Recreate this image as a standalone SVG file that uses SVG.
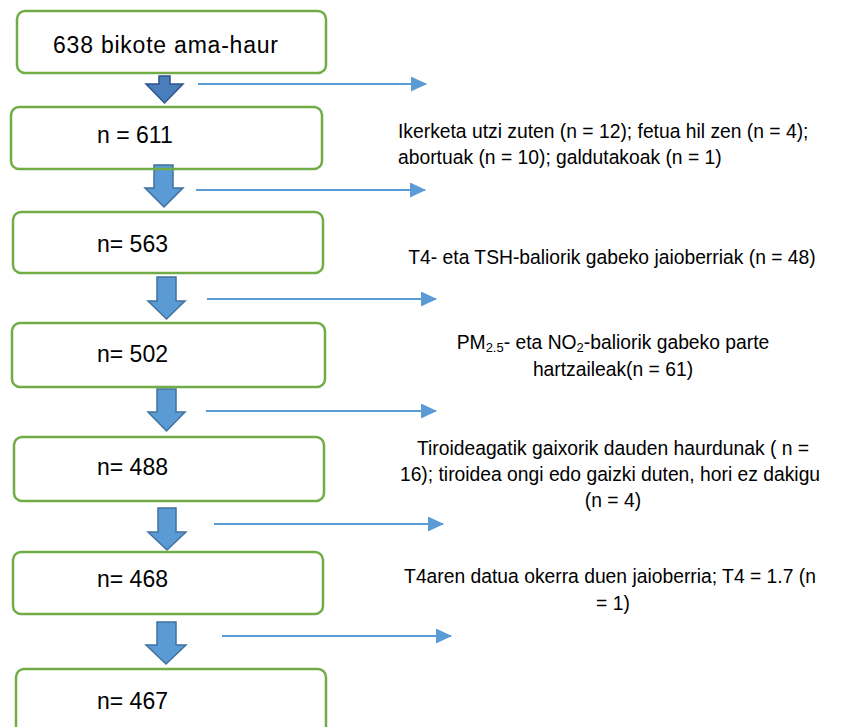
<svg xmlns="http://www.w3.org/2000/svg" width="842" height="727" viewBox="0 0 842 727">
<style>
.box{fill:none;stroke:#70AD47;stroke-width:2.5}
.blk{fill:#5B9BD5;stroke:#41719C;stroke-width:1.5;stroke-linejoin:miter}
.blk1{fill:#4A7EBB;stroke:#2F528F;stroke-width:1.5}
.hline{stroke:#5B9BD5;stroke-width:2.2;fill:none;marker-end:url(#ah)}
.lbl{font-family:"Liberation Sans",Arial,sans-serif;font-size:23px;fill:#000}
.note{font-family:"Liberation Sans",Arial,sans-serif;font-size:19.3px;fill:#000}
.c{text-anchor:middle}
</style>
<defs>
<marker id="ah" markerWidth="16" markerHeight="15" refX="15" refY="7.5" orient="auto" markerUnits="userSpaceOnUse">
<path d="M0,0 L16,7.5 L0,15 Z" fill="#5B9BD5"/>
</marker>
</defs>
<rect width="842" height="727" fill="#fff"/>
<g id="connectors">
<path class="blk1" d="M159,76 H170 V84 H183 L164.5,103 L146,84 H159 Z"/>
<path class="blk" d="M154,165 H173 V188 H183 L164,207 L145,188 H154 Z"/>
<path class="blk" d="M157,277 H176 V301 H185 L166.5,319 L148,301 H157 Z"/>
<path class="blk" d="M157,389 H176 V412 H185 L166.5,431 L148,412 H157 Z"/>
<path class="blk" d="M158,508 H176 V532 H186 L167,550 L148,532 H158 Z"/>
<path class="blk" d="M157,622 H176 V645 H186 L166,664 L146,645 H157 Z"/>
<line class="hline" x1="198" y1="84" x2="426" y2="84"/>
<line class="hline" x1="196" y1="190" x2="425" y2="190"/>
<line class="hline" x1="207" y1="299" x2="436" y2="299"/>
<line class="hline" x1="206" y1="411" x2="436" y2="411"/>
<line class="hline" x1="214" y1="524" x2="443" y2="524"/>
<line class="hline" x1="222" y1="636" x2="451" y2="636"/>
</g>
<g id="n1"><rect class="box" x="17" y="11" width="309" height="62" rx="8"/><text class="lbl" x="53" y="53" font-size="25" textLength="225" lengthAdjust="spacing">638 bikote ama-haur</text></g>
<g id="n2"><rect class="box" x="11" y="107" width="311" height="62" rx="8"/><text class="lbl" x="97" y="143">n = 611</text></g>
<g id="n3"><rect class="box" x="13" y="212" width="310" height="61" rx="8"/><text class="lbl" x="97" y="252">n= 563</text></g>
<g id="n4"><rect class="box" x="12" y="323" width="313" height="64" rx="8"/><text class="lbl" x="97" y="362">n= 502</text></g>
<g id="n5"><rect class="box" x="14" y="437" width="310" height="64" rx="8"/><text class="lbl" x="97" y="475">n= 488</text></g>
<g id="n6"><rect class="box" x="13" y="552" width="310" height="62" rx="8"/><text class="lbl" x="97" y="587">n= 468</text></g>
<g id="n7"><rect class="box" x="16" y="669" width="310" height="70" rx="8"/><text class="lbl" x="97" y="709">n= 467</text></g>
<g id="e1"><text class="note" x="398" y="138">Ikerketa utzi zuten (n = 12); fetua hil zen (n = 4);</text><text class="note" x="398" y="164">abortuak (n = 10); galdutakoak (n = 1)</text></g>
<g id="e2"><text class="note c" x="612" y="264">T4- eta TSH-baliorik gabeko jaioberriak (n = 48)</text></g>
<g id="e3"><text class="note c" x="613" y="349">PM<tspan font-size="13" dy="3">2.5</tspan><tspan dy="-3">- eta NO</tspan><tspan font-size="13" dy="3">2</tspan><tspan dy="-3">-baliorik gabeko parte</tspan></text><text class="note c" x="613" y="376">hartzaileak(n = 61)</text></g>
<g id="e4"><text class="note c" x="613" y="455">Tiroideagatik gaixorik dauden haurdunak ( n =</text><text class="note c" x="610" y="481">16); tiroidea ongi edo gaizki duten, hori ez dakigu</text><text class="note c" x="613" y="507">(n = 4)</text></g>
<g id="e5"><text class="note c" x="610" y="583">T4aren datua okerra duen jaioberria; T4 = 1.7 (n</text><text class="note c" x="613" y="610">= 1)</text></g>
</svg>
